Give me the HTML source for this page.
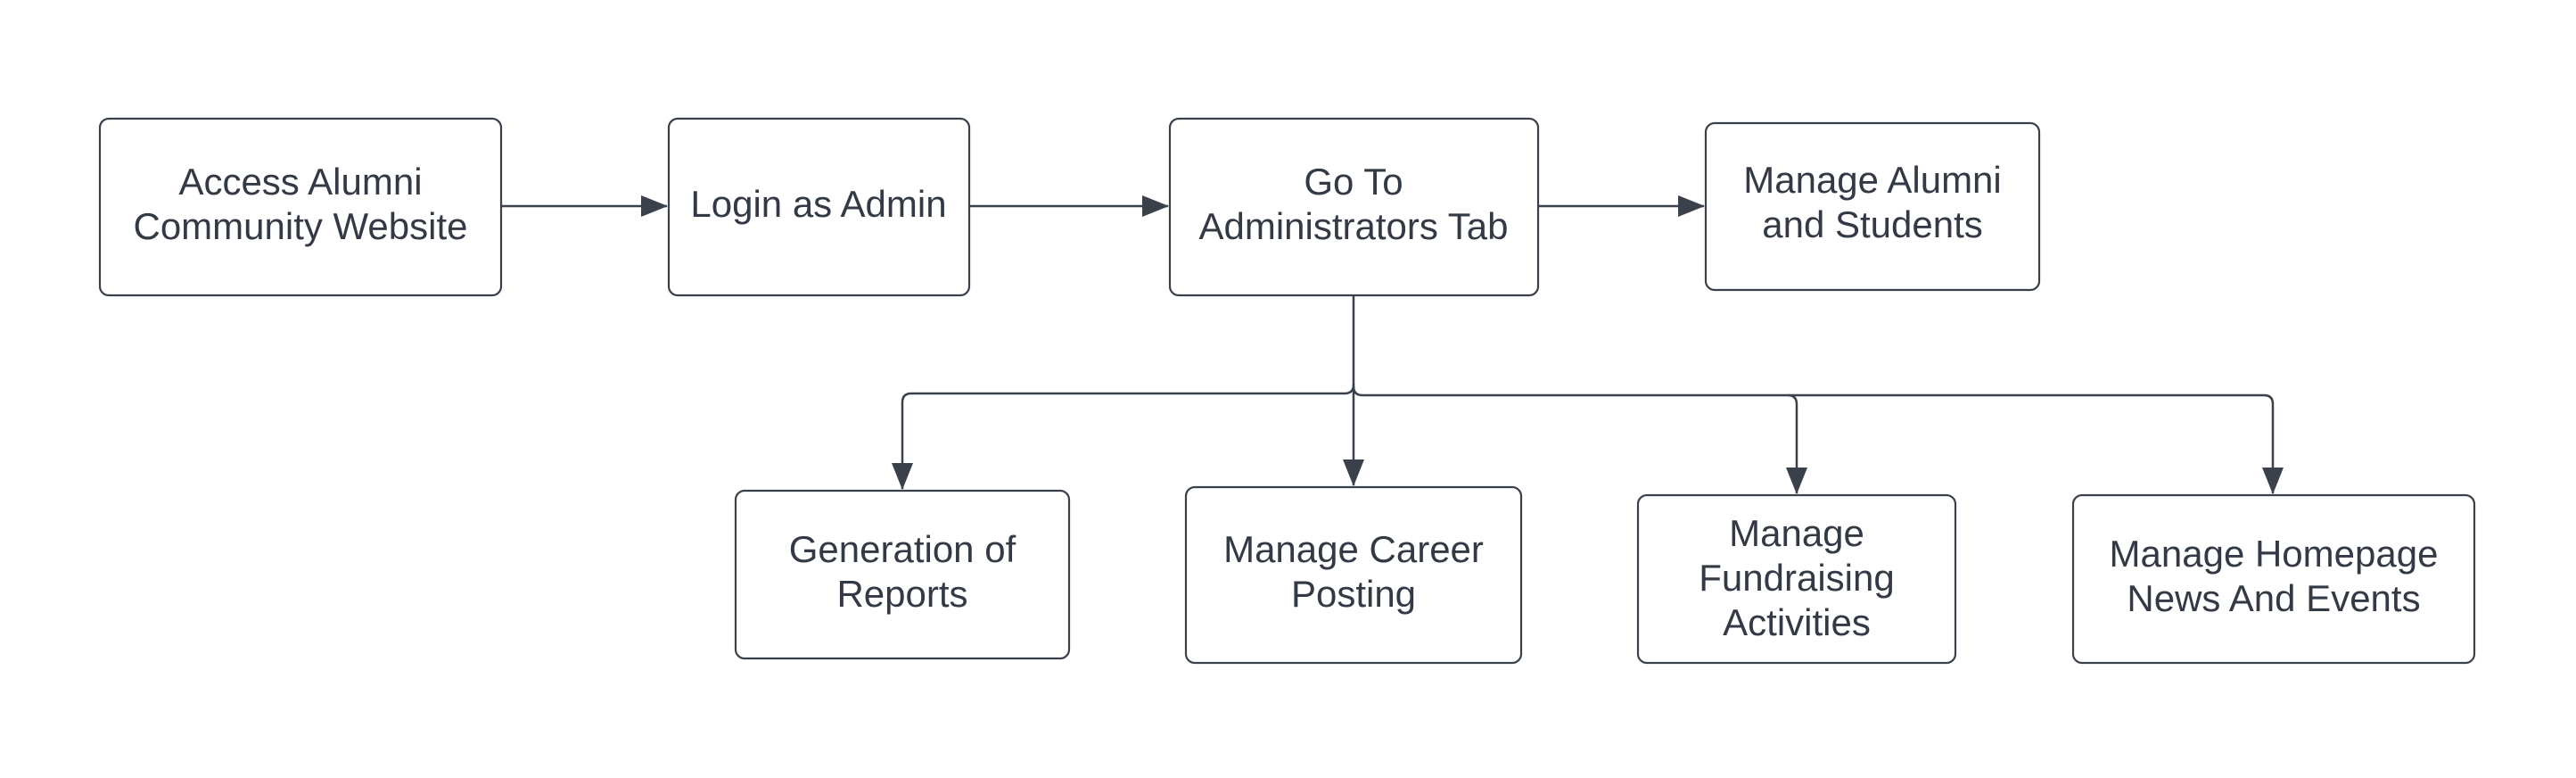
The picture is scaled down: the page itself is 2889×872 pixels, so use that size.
<!DOCTYPE html>
<html><head><meta charset="utf-8"><style>
html,body{margin:0;padding:0;background:#fff;}
svg{display:block;}
text{font-family:"Liberation Sans",sans-serif;font-size:42px;fill:#333a45;text-anchor:middle;}
</style></head><body>
<svg width="2889" height="872" viewBox="0 0 2889 872" xmlns="http://www.w3.org/2000/svg">
<defs>
<marker id="a" markerWidth="30" markerHeight="24" refX="29" refY="12" orient="auto" markerUnits="userSpaceOnUse">
<path d="M0,0 L30,12 L0,24 Z" fill="#3a414a"/></marker>
</defs>
<g fill="#fff" stroke="#3a414a" stroke-width="2.2">
<rect x="112" y="133" width="450" height="198" rx="10"/>
<rect x="750" y="133" width="337" height="198" rx="10"/>
<rect x="1312" y="133" width="413" height="198" rx="10"/>
<rect x="1913" y="138" width="374" height="187" rx="10"/>
<rect x="825" y="550" width="374" height="188" rx="10"/>
<rect x="1330" y="546" width="376" height="197" rx="10"/>
<rect x="1837" y="555" width="356" height="188" rx="10"/>
<rect x="2325" y="555" width="450" height="188" rx="10"/>
</g>
<g fill="none" stroke="#3a414a" stroke-width="2.5">
<path d="M562 231 H748" marker-end="url(#a)"/>
<path d="M1087 231 H1310" marker-end="url(#a)"/>
<path d="M1725 231 H1911" marker-end="url(#a)"/>
<path d="M1518 331 V544" marker-end="url(#a)"/>
<path d="M1518 431 Q1518 441 1508 441 H1022 Q1012 441 1012 451 V548" marker-end="url(#a)"/>
<path d="M1518 433 Q1518 443 1528 443 H2005 Q2015 443 2015 453 V553" marker-end="url(#a)"/>
<path d="M2005 443 H2539 Q2549 443 2549 453 V553" marker-end="url(#a)"/>
</g>
<text x="337" y="218">Access Alumni</text>
<text x="337" y="268">Community Website</text>
<text x="918" y="243">Login as Admin</text>
<text x="1518" y="218">Go To</text>
<text x="1518" y="268">Administrators Tab</text>
<text x="2100" y="216">Manage Alumni</text>
<text x="2100" y="266">and Students</text>
<text x="1012" y="630">Generation of</text>
<text x="1012" y="680">Reports</text>
<text x="1518" y="630">Manage Career</text>
<text x="1518" y="680">Posting</text>
<text x="2015" y="612">Manage</text>
<text x="2015" y="662">Fundraising</text>
<text x="2015" y="712">Activities</text>
<text x="2550" y="635">Manage Homepage</text>
<text x="2550" y="685">News And Events</text>
</svg>
</body></html>
